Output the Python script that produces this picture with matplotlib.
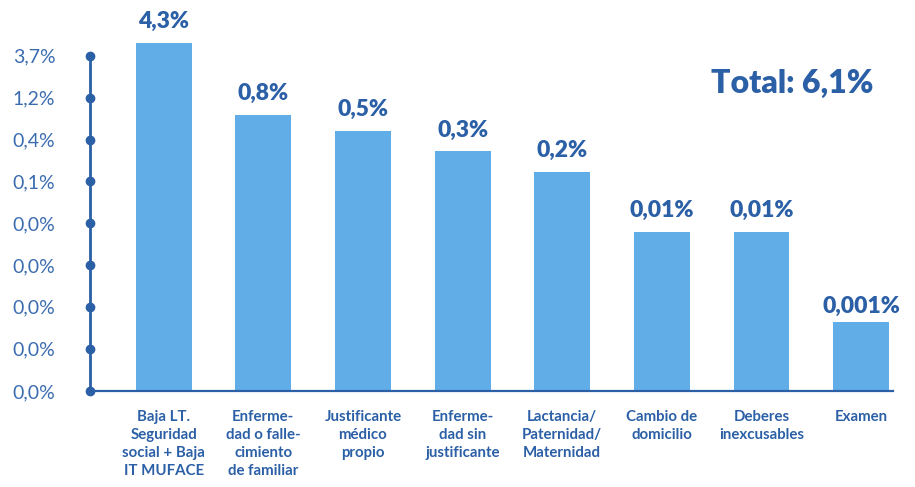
import matplotlib
matplotlib.use('Agg')
import matplotlib.pyplot as plt
import numpy as np

# categories and values (bar heights, labels as printed)
categories = ['Baja LT.\nSeguridad\nsocial + Baja\nIT MUFACE',
              'Enferme-\ndad o falle-\ncimiento\nde familiar',
              'Justificante\nmédico\npropio',
              'Enferme-\ndad sin\njustificante',
              'Lactancia/\nPaternidad/\nMaternidad',
              'Cambio de\ndomicilio',
              'Deberes\ninexcusables',
              'Examen']
heights = [5.2, 0.78, 0.51, 0.30, 0.175, 0.036, 0.036, 0.0029]
value_labels = ['4,3%', '0,8%', '0,5%', '0,3%', '0,2%', '0,01%', '0,01%', '0,001%']
ytick_vals = [3.7, 1.23, 0.41, 0.137, 0.0457, 0.0152, 0.0051, 0.0017, 0.00056]
ytick_labels = ['3,7%', '1,2%', '0,4%', '0,1%', '0,0%', '0,0%', '0,0%', '0,0%', '0,0%']
total_label = 'Total: 6,1%'

dark = '#2b5fa6'
barcol = '#60ade8'

fig = plt.figure(figsize=(9.15, 4.87), dpi=100)
ax = fig.add_axes([90/915, 96/487, 803/915, 391/487])

x = np.arange(len(categories))
ax.bar(x, heights, width=0.56, color=barcol, bottom=0.00056, zorder=2)
ax.set_yscale('log')
ax.set_ylim(0.00056, 16)
ax.set_xlim(-0.74, 7.32)

for xi, h, lab in zip(x, heights, value_labels):
    ax.annotate(lab, (xi, h), xytext=(0, 8), textcoords='offset points',
                ha='center', va='bottom', fontsize=16.5, fontweight='heavy',
                family='Lato', color=dark)

ax.set_yticks(ytick_vals)
ax.set_yticklabels(ytick_labels, family='Lato', fontweight='normal',
                   fontsize=14, color='#3b6cb0')
ax.yaxis.set_minor_locator(matplotlib.ticker.NullLocator())
ax.tick_params(axis='y', length=0, pad=25)
ax.plot(np.zeros(len(ytick_vals)) - 0.74, ytick_vals, 'o', color=dark,
        ms=6, clip_on=False, zorder=5)

ax.set_xticks(x)
ax.set_xticklabels(categories, family='Lato', fontweight='bold', fontsize=10.8,
                   color=dark, linespacing=1.35, va='top')
ax.tick_params(axis='x', length=0, pad=14)

for s in ['top', 'right']:
    ax.spines[s].set_visible(False)
ax.spines['left'].set_color(dark)
ax.spines['left'].set_linewidth(2)
ax.spines['left'].set_bounds(ytick_vals[-1], ytick_vals[0])
ax.spines['bottom'].set_color(dark)
ax.spines['bottom'].set_linewidth(1.6)

fig.text(792/915, 1 - 83/487, total_label, ha='center', va='center',
         fontsize=23, fontweight='heavy', family='Lato', color=dark)

fig.savefig('out.png', dpi=100)
